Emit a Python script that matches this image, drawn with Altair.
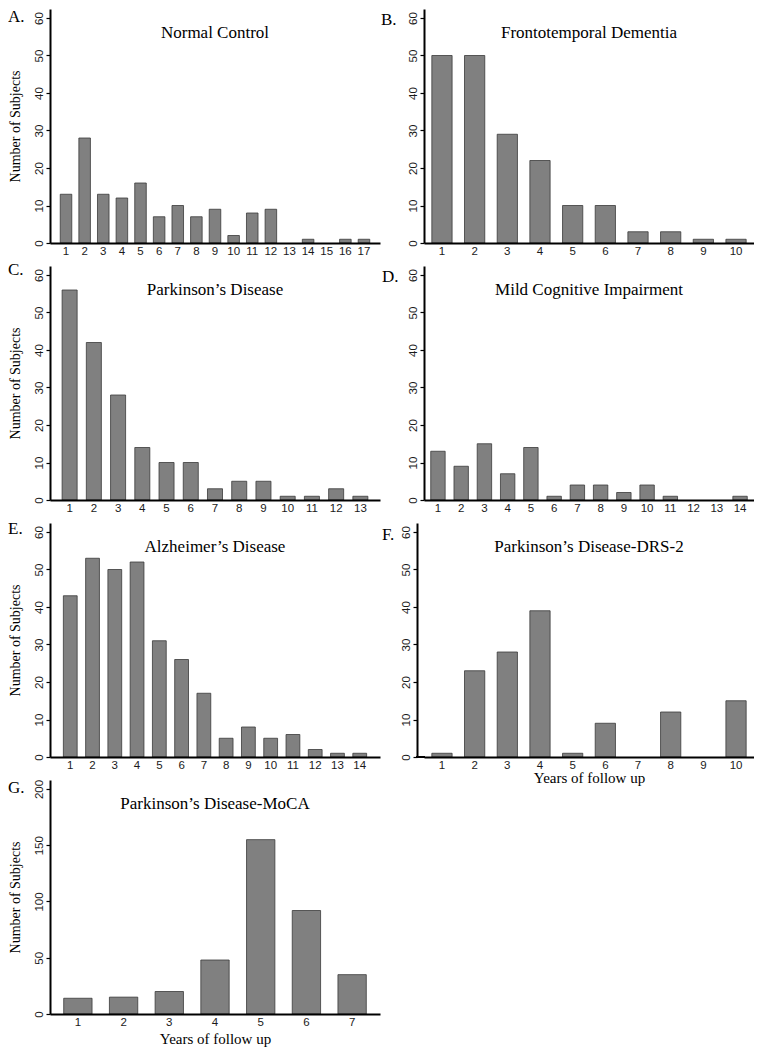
import altair as alt
import pandas as pd

# ---------------- data ----------------
years_a = list(range(1, 18))
normal_control = [13, 28, 13, 12, 16, 7, 10, 7, 9, 2, 8, 9, 0, 1, 0, 1, 1]

years_b = list(range(1, 11))
frontotemporal = [50, 50, 29, 22, 10, 10, 3, 3, 1, 1]

years_c = list(range(1, 14))
parkinsons = [56, 42, 28, 14, 10, 10, 3, 5, 5, 1, 1, 3, 1]

years_d = list(range(1, 15))
mild_cognitive = [13, 9, 15, 7, 14, 1, 4, 4, 2, 4, 1, 0, 0, 1]

years_e = list(range(1, 15))
alzheimers = [43, 53, 50, 52, 31, 26, 17, 5, 8, 5, 6, 2, 1, 1]

years_f = list(range(1, 11))
pd_drs2 = [1, 23, 28, 39, 1, 9, 0, 12, 0, 15]

years_g = list(range(1, 8))
pd_moca = [14, 15, 20, 48, 155, 92, 35]

letters = ["A.", "B.", "C.", "D.", "E.", "F.", "G."]
titles = [
    "Normal Control",
    "Frontotemporal Dementia",
    "Parkinson\u2019s Disease",
    "Mild Cognitive Impairment",
    "Alzheimer\u2019s Disease",
    "Parkinson\u2019s Disease-DRS-2",
    "Parkinson\u2019s Disease-MoCA",
]
y_title = "Number of Subjects"
x_title = "Years of follow up"
ticks_60 = [0, 10, 20, 30, 40, 50, 60]
ticks_200 = [0, 50, 100, 150, 200]

SERIF = "Liberation Serif"
SANS = "Liberation Sans"
H = 234
W = 330


def panel(years, counts, letter, title, ymax, yvals, pad_outer,
          show_ytitle, show_xtitle, letter_x, letter_y, xtitle_pad=2, yoffset=0):
    df = pd.DataFrame({"year": years, "count": counts})

    xaxis = dict(labelAngle=0, ticks=False, labelPadding=2, labelOverlap=False,
                 labelFont=SANS, labelFontSize=11.5, labelColor="#1a1a1a",
                 domainColor="black", domainWidth=2, zindex=1, grid=False)
    if show_xtitle:
        xaxis.update(title=x_title, titleFont=SERIF, titleFontSize=15,
                     titleFontWeight="normal", titleColor="black",
                     titlePadding=xtitle_pad)
    else:
        xaxis["title"] = None

    yaxis = dict(values=yvals, labelAngle=270, labelAlign="center",
                 labelBaseline="bottom", labelPadding=2, tickSize=4,
                 tickColor="black", tickWidth=1.2, labelFont=SANS,
                 labelFontSize=11.5, labelColor="#1a1a1a",
                 domainColor="black", domainWidth=2, zindex=1, grid=False,
                 offset=yoffset)
    if show_ytitle:
        yaxis.update(title=y_title, titleFont=SERIF, titleFontSize=14,
                     titleFontWeight="normal", titleColor="black",
                     titlePadding=11)
    else:
        yaxis["title"] = None

    bars = alt.Chart(df).transform_filter(
        "datum.count > 0"
    ).mark_bar(
        color="#808080", stroke="#3a3a3a", strokeWidth=0.8
    ).encode(
        x=alt.X("year:O", sort=years,
                scale=alt.Scale(domain=years, paddingInner=0.38,
                                paddingOuter=pad_outer),
                axis=alt.Axis(**xaxis)),
        y=alt.Y("count:Q", scale=alt.Scale(domain=[0, ymax], nice=False),
                axis=alt.Axis(**yaxis)),
    )

    ttl = alt.Chart(pd.DataFrame({"t": [title]})).mark_text(
        font=SERIF, fontSize=17, color="black", align="center", baseline="middle"
    ).encode(text="t:N", x=alt.value(W / 2), y=alt.value(24))

    lab = alt.Chart(pd.DataFrame({"t": [letter]})).mark_text(
        font=SERIF, fontSize=17, color="black", align="left", baseline="middle"
    ).encode(text="t:N", x=alt.value(letter_x), y=alt.value(letter_y))

    layers = [bars, ttl, lab]
    if yoffset:
        ext = alt.Chart(pd.DataFrame({"t": [0]})).mark_rule(
            color="black", strokeWidth=2
        ).encode(x=alt.value(-yoffset - 1), x2=alt.value(1), y=alt.value(H))
        layers.append(ext)
    return alt.layer(*layers).properties(width=W, height=H)


pA = panel(years_a, normal_control, letters[0], titles[0], 62.4, ticks_60, 0.55, True, False, -42, 8)
pB = panel(years_b, frontotemporal, letters[1], titles[1], 62.4, ticks_60, 0.24, False, False, -43, 11)
pC = panel(years_c, parkinsons, letters[2], titles[2], 62.4, ticks_60, 0.5, True, False, -42, 4)
pD = panel(years_d, mild_cognitive, letters[3], titles[3], 62.4, ticks_60, 0.29, False, False, -42, 11)
pE = panel(years_e, alzheimers, letters[4], titles[4], 62.4, ticks_60, 0.6, True, False, -42, 6)
pF = panel(years_f, pd_drs2, letters[5], titles[5], 62.4, ticks_60, 0.24, False, True, -42, 12,
           xtitle_pad=0, yoffset=7)
pG = panel(years_g, pd_moca, letters[6], titles[6], 208, ticks_200, 0.3, True, True, -42, 8, xtitle_pad=4)

chart = alt.concat(
    pA, pB, pC, pD, pE, pF, pG,
    columns=2, spacing={"row": 23, "column": 44}, bounds="flush"
).properties(
    padding=0, background="white"
).configure_view(stroke=None)

chart.save("out.html", embed_options={"renderer": "svg", "actions": False})
